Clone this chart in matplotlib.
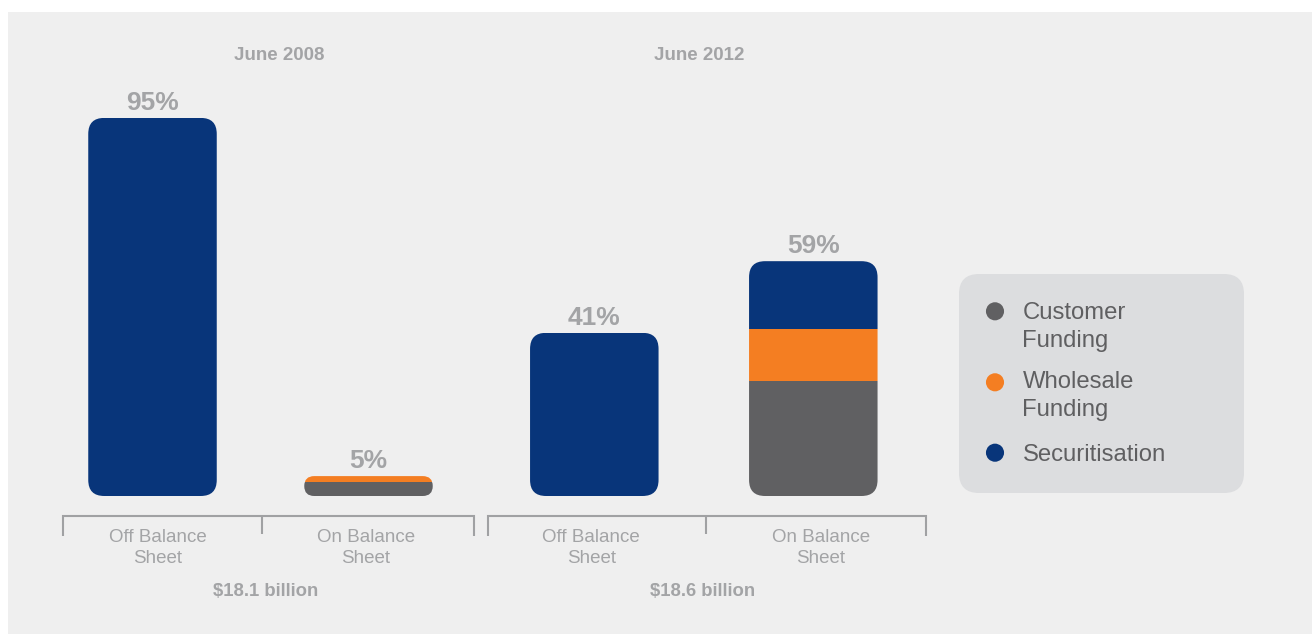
import matplotlib
matplotlib.use("Agg")
import matplotlib.pyplot as plt
from matplotlib.patches import FancyBboxPatch, Rectangle

plt.rcParams["font.family"] = ["Liberation Sans", "DejaVu Sans"]

# ---- data -------------------------------------------------------------
periods = ["June 2008", "June 2012"]
period_totals = ["$18.1 billion", "$18.6 billion"]
bar_categories = ["Off Balance\nSheet", "On Balance\nSheet",
                  "Off Balance\nSheet", "On Balance\nSheet"]
customer_funding = [0, 3.5, 0, 29]
wholesale_funding = [0, 1.5, 0, 13]
securitisation = [95, 0, 41, 17]
series_names = ["Customer\nFunding", "Wholesale\nFunding", "Securitisation"]

# ---- styling / layout --------------------------------------------------
W, H = 1312, 634
NAVY = "#08357a"
ORANGE = "#f47e22"
DARK = "#606062"
TEXT_GREY = "#a3a4a6"
LINE_GREY = "#a0a1a3"
PANEL = "#efefef"
LEGEND_BG = "#dcdddf"
LEGEND_TEXT = "#5f5f61"

BASE = 496.0      # pixel row of the 0 % baseline
SCALE = 3.98      # pixels per percentage point

bar_centers = [152.5, 368.5, 594.3, 813.3]
bar_width = 128.5
corner = 16.0
series_colors = [DARK, ORANGE, NAVY]


def py(p):
    """pixel row (from top) -> data y (percent)"""
    return (BASE - p) / SCALE


fig = plt.figure(figsize=(W / 100, H / 100), dpi=100, facecolor="white")
ax = fig.add_axes([0, 0, 1, 1])
ax.set_xlim(0, W)
ax.set_ylim(py(H), py(0))
ax.axis("off")

# background panel
ax.add_patch(Rectangle((8, py(H)), W - 8, py(12) - py(H),
                       facecolor=PANEL, edgecolor="none", zorder=0))

# ---- stacked bars with rounded ends ------------------------------------
stacks = [customer_funding, wholesale_funding, securitisation]
for i, xc in enumerate(bar_centers):
    total = sum(s[i] for s in stacks)
    h_px = total * SCALE
    r = min(corner, h_px / 2)
    clip = FancyBboxPatch((xc - bar_width / 2, 0), bar_width, total,
                          boxstyle=f"round,pad=0,rounding_size={r}",
                          mutation_aspect=1 / SCALE,
                          facecolor="none", edgecolor="none", zorder=1)
    ax.add_patch(clip)
    bottom = 0
    for vals, col in zip(stacks, series_colors):
        v = vals[i]
        if v <= 0:
            continue
        bars = ax.bar(xc, v, width=bar_width, bottom=bottom, color=col,
                      edgecolor="none", zorder=2)
        for b in bars:
            b.set_clip_path(clip)
        bottom += v
    ax.text(xc, total + 8 / SCALE, f"{total:g}%", ha="center", va="baseline",
            fontsize=19, fontweight="bold", color=TEXT_GREY, zorder=3)

# ---- group brackets and labels -----------------------------------------
brackets = [(62.5, 262, 474), (488, 706, 926)]
total_centers = [265.5, 703]
for (l, m, r_), tot, tc in zip(brackets, period_totals, total_centers):
    ax.plot([l, l, r_, r_], [py(536), py(516), py(516), py(536)],
            color=LINE_GREY, lw=1.5, solid_joinstyle="miter",
            solid_capstyle="butt", zorder=3)
    ax.plot([m, m], [py(516), py(534)], color=LINE_GREY, lw=1.5,
            solid_capstyle="butt", zorder=3)
    ax.text(tc, py(596), tot, ha="center", va="baseline",
            fontsize=13.3, fontweight="bold", color=TEXT_GREY)

period_centers = [279, 699]
for xc, period in zip(period_centers, periods):
    ax.text(xc, py(60), period, ha="center", va="baseline",
            fontsize=13.5, fontweight="bold", color=TEXT_GREY)

label_centers = [157.5, 366, 591.3, 820.8]
for xc, lab in zip(label_centers, bar_categories):
    for k, line in enumerate(lab.split("\n")):
        ax.text(xc, py(542.3 + 21 * k), line, ha="center", va="baseline",
                fontsize=13.5, color=TEXT_GREY)

# ---- legend -------------------------------------------------------------
lx0, lx1, ly0, ly1 = 959, 1244, 274, 493
ax.add_patch(FancyBboxPatch((lx0, py(ly1)), lx1 - lx0, py(ly0) - py(ly1),
                            boxstyle="round,pad=0,rounding_size=20",
                            mutation_aspect=1 / SCALE,
                            facecolor=LEGEND_BG, edgecolor="none", zorder=1))
first_baselines = [319, 387.7, 460.7]
marker_rows = [311.3, 382.3, 452.7]
for name, col, bl, mr in zip(series_names, series_colors,
                             first_baselines, marker_rows):
    ax.scatter([995], [py(mr)], s=170, color=col, edgecolors="none", zorder=3)
    for k, line in enumerate(name.split("\n")):
        ax.text(1022.5, py(bl + 28 * k), line, ha="left", va="baseline",
                fontsize=17.2, color=LEGEND_TEXT, zorder=3)

fig.savefig("out.png", dpi=100, facecolor="white")
